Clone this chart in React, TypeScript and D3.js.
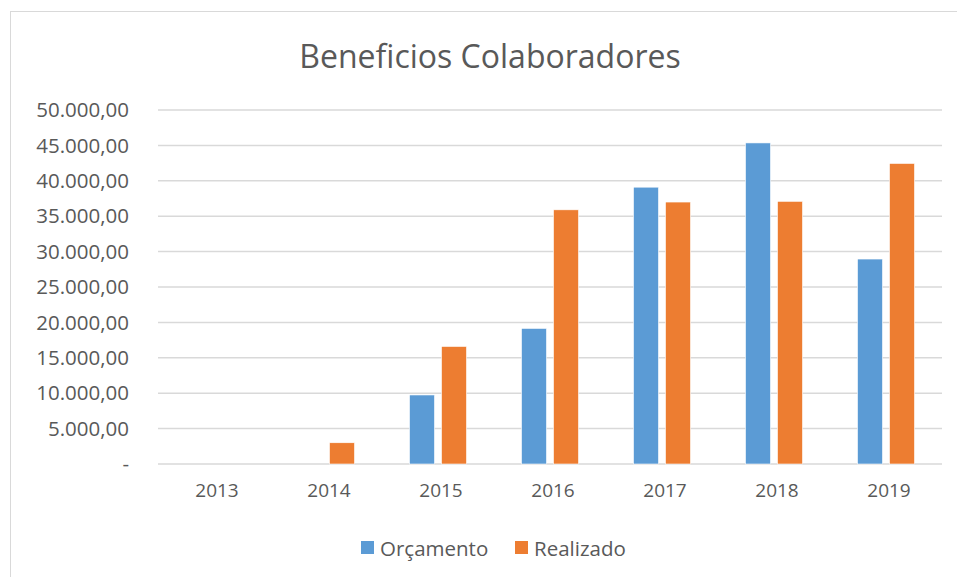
import React from "react";
import * as d3 from "d3";

const categories = ["2013", "2014", "2015", "2016", "2017", "2018", "2019"];
const seriesNames = ["Orçamento", "Realizado"];
const orcamento = [0, 0, 9750, 19150, 39100, 45350, 28950];
const realizado = [0, 3000, 16600, 35900, 37000, 37100, 42450];
const yTicks = [0, 5000, 10000, 15000, 20000, 25000, 30000, 35000, 40000, 45000, 50000];
const title = "Beneficios Colaboradores";

const colors = ["#5b9bd5", "#ed7d31"];
const W = 957;
const H = 577;
const FONT = "'Open Sans', 'Noto Sans', sans-serif";
const TEXT = "#595959";

const locale = d3.formatLocale({ decimal: ",", thousands: ".", grouping: [3], currency: ["R$", ""] });
const fmt = locale.format(",.2f");

export default function App() {
  const x = d3.scaleBand<string>().domain(categories).range([158, 942]).paddingInner(0).paddingOuter(0);
  const xs = d3.scaleBand<string>().domain(seriesNames).range([-28.5, 28.5]).paddingInner(0.219).paddingOuter(0);
  const y = d3.scaleLinear().domain([0, 50000]).range([464, 110]);
  const data = [orcamento, realizado];

  return (
    <svg width={W} height={H} style={{ position: "absolute", left: 0, top: 0, display: "block", background: "#fff" }}>
      <rect x={10.5} y={11.5} width={960} height={600} fill="#fff" stroke="#d9d9d9" strokeWidth={1} />
      <text x={490} y={68} textAnchor="middle" fontFamily={FONT} fontSize={32} fill={TEXT}>{title}</text>
      {yTicks.map((t) => (
        <g key={t}>
          <line x1={158} x2={942} y1={y(t)} y2={y(t)} stroke="#d9d9d9" strokeWidth={1.5} />
          <text x={129} y={y(t)} dy="0.35em" textAnchor="end" fontFamily={FONT} fontSize={20.5} fill={TEXT}>
            {t === 0 ? "-" : fmt(t)}
          </text>
        </g>
      ))}
      {data.map((vals, si) =>
        vals.map((v, ci) =>
          v > 0 ? (
            <rect
              key={`${si}-${ci}`}
              x={(x(categories[ci]) as number) + x.bandwidth() / 2 + (xs(seriesNames[si]) as number)}
              y={y(v)}
              width={xs.bandwidth()}
              height={y(0) - y(v)}
              fill={colors[si]}
              stroke="#fff"
              strokeWidth={0.6}
            />
          ) : null
        )
      )}
      {categories.map((c) => (
        <text key={c} x={(x(c) as number) + x.bandwidth() / 2 + 3} y={497} textAnchor="middle" fontFamily={FONT} fontSize={19} fill={TEXT}>
          {c}
        </text>
      ))}
      <g>
        <rect x={361} y={541} width={13} height={13} fill={colors[0]} />
        <text x={380} y={555.5} fontFamily={FONT} fontSize={20.5} fill={TEXT}>{seriesNames[0]}</text>
        <rect x={515} y={541} width={13} height={13} fill={colors[1]} />
        <text x={534} y={555.5} fontFamily={FONT} fontSize={20.5} fill={TEXT}>{seriesNames[1]}</text>
      </g>
    </svg>
  );
}
